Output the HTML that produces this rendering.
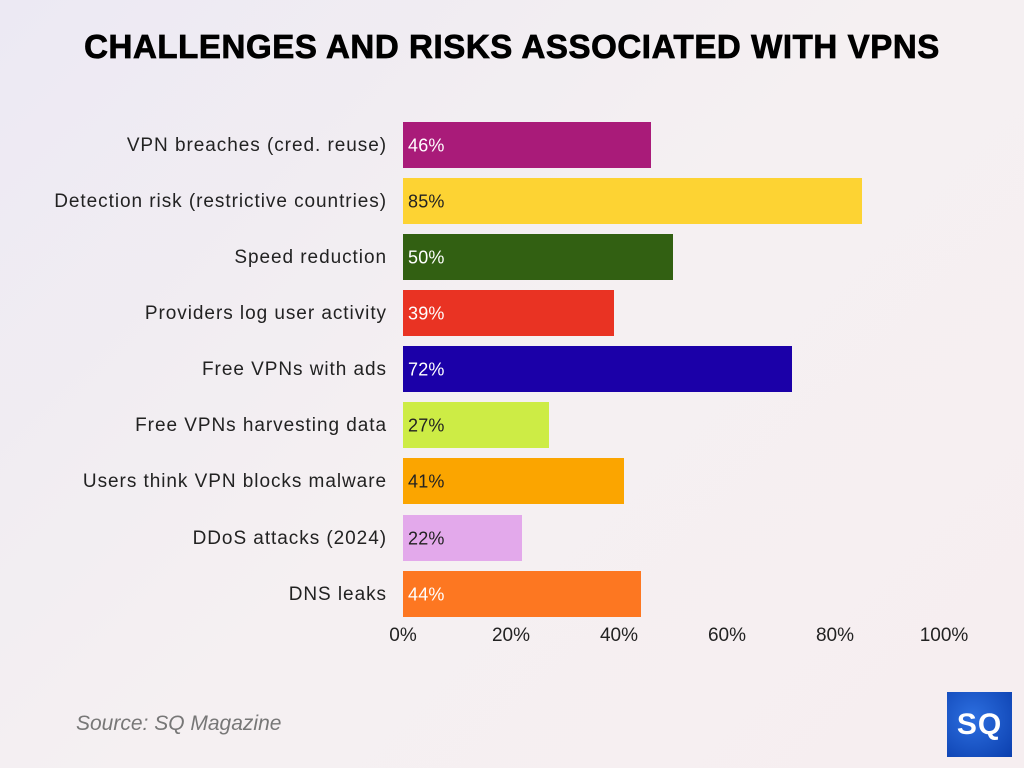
<!DOCTYPE html>
<html><head><meta charset="utf-8"><style>
body{margin:0;width:1024px;height:768px;overflow:hidden;background:linear-gradient(135deg,#ece9f3 0%,#f5f0f2 50%,#f6eef0 100%);font-family:"Liberation Sans",sans-serif;position:relative}
.t{position:absolute;top:28px;left:0;width:1024px;text-align:center;font-weight:900;font-size:33px;letter-spacing:0.6px;color:#000;-webkit-text-stroke:0.8px #000}
.l{position:absolute;right:637px;font-size:19px;letter-spacing:0.95px;color:#222;text-align:right;white-space:nowrap;transform:translateY(-50%);margin-top:1px}
.b{position:absolute;left:403px;height:46px;transform:translateY(-50%)}
.v{position:absolute;left:408px;font-size:18px;letter-spacing:0.2px;transform:translateY(-50%);margin-top:1px}
.x{position:absolute;top:625px;font-size:19px;color:#222;transform:translateX(-50%)}
</style></head><body>
<div class="t">CHALLENGES AND RISKS ASSOCIATED WITH VPNS</div>

<div class="l" style="top:145px">VPN breaches (cred. reuse)</div><div class="b" style="top:145px;width:248px;background:#a91b79"></div><div class="v" style="top:145px;color:#fff">46%</div>
<div class="l" style="top:201px">Detection risk (restrictive countries)</div><div class="b" style="top:201px;width:459px;background:#fdd333"></div><div class="v" style="top:201px;color:#222">85%</div>
<div class="l" style="top:257px">Speed reduction</div><div class="b" style="top:257px;width:270px;background:#326012"></div><div class="v" style="top:257px;color:#fff">50%</div>
<div class="l" style="top:313px">Providers log user activity</div><div class="b" style="top:313px;width:211px;background:#e93323"></div><div class="v" style="top:313px;color:#fff">39%</div>
<div class="l" style="top:369px">Free VPNs with ads</div><div class="b" style="top:369px;width:389px;background:#1b00a8"></div><div class="v" style="top:369px;color:#fff">72%</div>
<div class="l" style="top:425px">Free VPNs harvesting data</div><div class="b" style="top:425px;width:146px;background:#cdec45"></div><div class="v" style="top:425px;color:#222">27%</div>
<div class="l" style="top:481px">Users think VPN blocks malware</div><div class="b" style="top:481px;width:221px;background:#fba500"></div><div class="v" style="top:481px;color:#222">41%</div>
<div class="l" style="top:538px">DDoS attacks (2024)</div><div class="b" style="top:538px;width:119px;background:#e3a9eb"></div><div class="v" style="top:538px;color:#222">22%</div>
<div class="l" style="top:594px">DNS leaks</div><div class="b" style="top:594px;width:238px;background:#fd7721"></div><div class="v" style="top:594px;color:#fff">44%</div>

<div class="x" style="left:403px">0%</div>
<div class="x" style="left:511px">20%</div>
<div class="x" style="left:619px">40%</div>
<div class="x" style="left:727px">60%</div>
<div class="x" style="left:835px">80%</div>
<div class="x" style="left:944px">100%</div>

<div style="position:absolute;left:76px;top:712px;font-size:21px;font-style:italic;color:#777">Source: SQ Magazine</div>
<div style="position:absolute;left:947px;top:692px;width:65px;height:65px;background:radial-gradient(circle at 40% 40%,#2d6fe0,#0b3fae);color:#fff;font-weight:900;font-size:30px;line-height:65px;text-align:center;letter-spacing:1px">SQ</div>
</body></html>
